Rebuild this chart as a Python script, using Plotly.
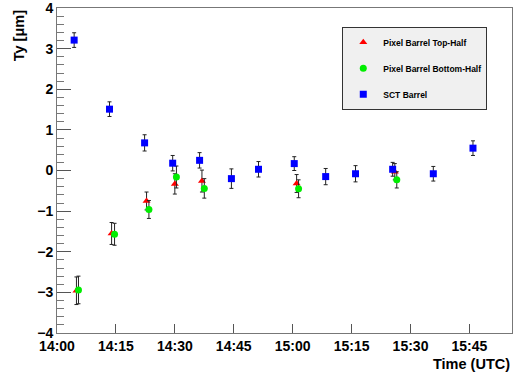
import plotly.graph_objects as go

DAY = "2008-09-13 "

# SCT Barrel
sct_time = ["14:04:22", "14:13:22", "14:22:18", "14:29:27", "14:36:18", "14:44:24", "14:51:18",
            "15:00:24", "15:08:24", "15:16:00", "15:25:27", "15:35:48", "15:45:54"]
sct_ty = [3.21, 1.51, 0.68, 0.18, 0.25, -0.20, 0.03, 0.17, -0.15, -0.08, 0.03, -0.08, 0.55]
sct_err = [0.18, 0.18, 0.20, 0.19, 0.19, 0.24, 0.19, 0.17, 0.20, 0.20, 0.17, 0.18, 0.18]

# Pixel Barrel Top-Half
top_time = ["14:04:57", "14:13:54", "14:22:48", "14:30:00", "14:36:54", "15:01:00", "15:26:00"]
top_ty = [-2.96, -1.55, -0.75, -0.33, -0.26, -0.32, -0.03]
top_err = [0.34, 0.27, 0.22, 0.25, 0.27, 0.22, 0.20]

# Pixel Barrel Bottom-Half
bot_time = ["14:05:28", "14:14:39", "14:23:24", "14:30:24", "14:37:30", "15:01:30", "15:26:30"]
bot_ty = [-2.94, -1.57, -0.96, -0.16, -0.44, -0.45, -0.23]
bot_err = [0.34, 0.27, 0.22, 0.27, 0.24, 0.22, 0.20]

x_range = ["14:00:00", "15:55:50"]
y_range = [-4, 4]

FONT = "Liberation Sans, Arial, Helvetica, sans-serif"
ERR = dict(type="data", visible=True, color="#222222", thickness=1, width=2)

fig = go.Figure()
fig.add_trace(go.Scatter(
    x=[DAY + t for t in top_time], y=top_ty, mode="markers", name="Pixel Barrel Top-Half",
    marker=dict(symbol="triangle-up", size=7, color="#ff0000"),
    error_y=dict(array=top_err, **ERR), legendgroup="a"))
fig.add_trace(go.Scatter(
    x=[DAY + t for t in bot_time], y=bot_ty, mode="markers", name="Pixel Barrel Bottom-Half",
    marker=dict(symbol="circle", size=7, color="#00ee00"),
    error_y=dict(array=bot_err, **ERR), legendgroup="b"))
fig.add_trace(go.Scatter(
    x=[DAY + t for t in sct_time], y=sct_ty, mode="markers", name="SCT Barrel",
    marker=dict(symbol="square", size=7, color="#0000ff"),
    error_y=dict(array=sct_err, **ERR), legendgroup="c"))

fig.update_layout(
    width=513, height=372,
    margin=dict(l=57, r=1, t=8, b=39),
    paper_bgcolor="white", plot_bgcolor="white",
    font=dict(family=FONT, size=14, color="black", weight="bold"),
    showlegend=True,
    legend=dict(x=0.627, y=0.942, xanchor="left", yanchor="top",
                bgcolor="#f0f0f0", bordercolor="#333333", borderwidth=1,
                font=dict(family=FONT, size=8.5, weight="bold"),
                tracegroupgap=7, traceorder="grouped"),
    xaxis=dict(type="date", range=[DAY + x_range[0], DAY + x_range[1]],
               tick0=DAY + "14:00:00", dtick=900000, tickformat="%H:%M",
               ticks="inside", ticklen=9, tickcolor="#555555",
               showline=True, linecolor="#777777", linewidth=1, mirror=True,
               showgrid=False, zeroline=False, ticklabeloverflow="allow",
               tickfont=dict(family=FONT, size=14, weight="bold")),
    yaxis=dict(range=y_range, dtick=1, tick0=0,
               ticks="inside", ticklen=14, tickcolor="#555555",
               minor=dict(dtick=0.2, ticks="inside", ticklen=7, tickcolor="#777777", showgrid=False),
               showline=True, linecolor="#777777", linewidth=1, mirror=True,
               showgrid=False, zeroline=False, ticklabeloverflow="allow",
               tickfont=dict(family=FONT, size=14, weight="bold")),
    annotations=[
        dict(text="Ty [μm]", xref="paper", yref="paper", x=-0.084, y=1.0,
             xanchor="center", yanchor="top", textangle=-90, showarrow=False,
             font=dict(family=FONT, size=14.5, weight="bold")),
        dict(text="Time (UTC)", xref="paper", yref="paper", x=1.0, y=-0.064,
             xanchor="right", yanchor="top", showarrow=False,
             font=dict(family=FONT, size=14.5, weight="bold")),
    ],
)

fig.write_html("out.html")
